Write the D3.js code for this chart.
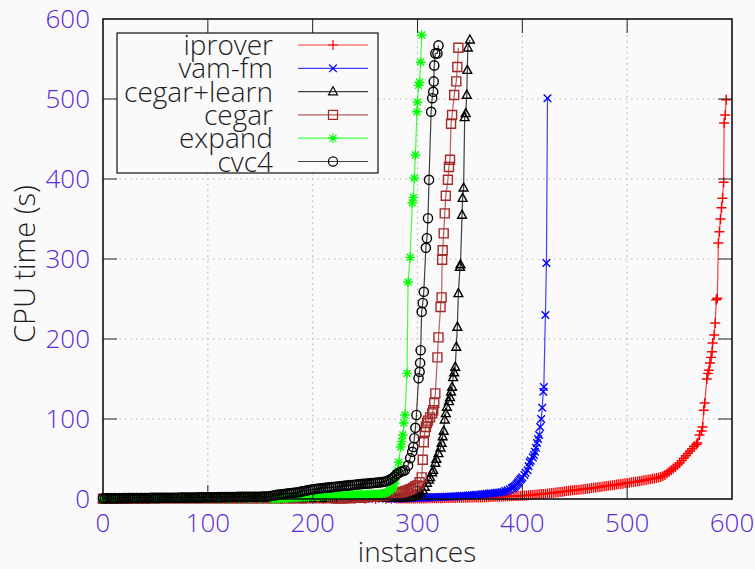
<!DOCTYPE html>
<html>
<head>
<meta charset="utf-8">
<script src="https://cdn.jsdelivr.net/npm/d3@7"></script>
<style>
  html, body { margin: 0; padding: 0; background: #fafafa; }
  svg { display: block; }
</style>
</head>
<body>
<div id="vis"></div>
<script>
// ---- data: [instance, CPU time (s)] ----
const iprover = [
  [0,0.2],[10,0.2],[20,0.2],[30,0.2],[40,0.2],[50,0.2],[60,0.2],[70,0.2],[80,0.2],[90,0.2],
  [100,0.2],[110,0.2],[120,0.2],[130,0.2],[140,0.2],[150,0.2],[160,0.2],[170,0.2],[180,0.3],[190,0.3],
  [200,0.3],[210,0.3],[220,0.3],[230,0.3],[240,0.3],[250,0.3],[260,0.4],[270,0.4],[275,0.45],
  [280,0.5],[282,0.5],[284,0.5],[286,0.55],[288,0.55],[290,0.6],[292,0.6],[294,0.6],[296,0.6],[298,0.65],
  [300,0.65],[302,0.7],[304,0.7],[306,0.7],[308,0.75],[310,0.8],[312,0.8],[314,0.85],[316,0.85],[318,0.9],
  [320,0.95],[322,1.0],[324,1.0],[326,1.1],[328,1.15],[330,1.2],[332,1.3],[334,1.35],[336,1.4],[338,1.45],
  [340,1.5],[342,1.5],[344,1.6],[346,1.65],[348,1.7],[350,1.75],[352,1.8],[354,1.9],[356,1.95],[358,2.0],
  [360,2.0],[362,2.1],[364,2.2],[366,2.3],[368,2.4],[370,2.5],[372,2.6],[374,2.7],[376,2.8],[378,2.9],
  [380,3.0],[382,3.1],[384,3.2],[386,3.3],[388,3.4],[390,3.5],[392,3.65],[394,3.8],[396,3.9],[398,4.05],
  [400,4.2],[402,4.3],[404,4.5],[406,4.7],[408,4.9],[410,5.1],[412,5.3],[414,5.6],[416,5.9],[418,6.1],
  [420,6.4],[422,6.7],[424,7.0],[426,7.2],[428,7.5],[430,7.8],[432,8.1],[434,8.4],[436,8.8],[438,9.2],
  [440,9.5],[442,9.9],[444,10.2],[446,10.5],[448,10.8],[450,11.1],[452,11.4],[454,11.7],[456,12.0],[458,12.3],
  [460,12.6],[462,12.9],[464,13.2],[466,13.6],[468,14.0],[470,14.3],[472,14.7],[474,15.1],[476,15.4],[478,15.8],
  [480,16.2],[482,16.5],[484,16.9],[486,17.3],[488,17.6],[490,18.0],[492,18.4],[494,18.8],[496,19.2],[498,19.6],
  [500,20.0],[502,20.4],[504,20.8],[506,21.2],[508,21.6],[510,22.0],[512,22.5],[514,22.9],[516,23.4],[518,23.9],
  [520,24.3],[522,24.8],[524,25.3],[526,25.7],[528,26.2],[530,26.8],[532,27.6],[534,28.8],[536,30],[538,32],
  [540,34],[542,36],[544,38],[546,40],[548,42.5],[550,45],[552,48],[554,51],[556,54],[558,57],
  [560,60],[562,63],[564,66],[566,68],[567,70],[569,80],[571,85],[572,90],[573,111],[574,120],
  [576,150],[577,157],[578,161],[579,170],[580,177],[581,184],[581.5,195],[583,205],[584,220],[585,249],
  [586,251],[587,320],[588,334],[589,350],[590,364],[591,376],[592,396],[592.5,470],[593.5,480],[594.5,499]
];
const vamFm = [
  [0,0.2],[10,0.2],[20,0.2],[30,0.2],[40,0.2],[50,0.2],[60,0.2],[70,0.2],[80,0.2],[90,0.2],
  [100,0.2],[110,0.2],[120,0.2],[130,0.2],[140,0.2],[150,0.2],[160,0.2],[170,0.2],[180,0.2],[190,0.2],
  [200,0.2],[210,0.2],[220,0.2],[230,0.3],[240,0.3],[250,0.3],[260,0.3],[270,0.3],[275,0.35],
  [280,0.4],[282,0.5],[284,0.6],[286,0.7],[288,0.8],[290,0.9],[292,1.0],[294,1.1],[296,1.2],[298,1.3],
  [300,1.35],[302,1.45],[304,1.5],[306,1.6],[308,1.7],[310,1.8],[312,1.9],[314,2.0],[316,2.1],[318,2.2],
  [320,2.3],[322,2.4],[324,2.5],[326,2.7],[328,2.8],[330,2.9],[332,3.1],[334,3.2],[336,3.3],[338,3.5],
  [340,3.6],[342,3.7],[344,3.9],[346,4.0],[348,4.2],[350,4.4],[352,4.6],[354,4.9],[356,5.2],[358,5.4],
  [360,5.7],[362,6.0],[364,6.2],[366,6.5],[368,6.8],[370,7.0],[372,7.2],[374,7.5],[376,7.8],[378,8.1],
  [380,8.4],[382,9.0],[384,9.8],[386,10.8],[388,12],[390,13.3],[391,14],[392,15],[393,16],[394,17.5],
  [395,19],[396,20.5],[397,22],[398,24],[399,25.5],[400,27],[402,30],[403,33],[405,36],[406,41],
  [407,46],[408,48],[410,52],[411,55],[412,59],[413,64],[414,70],[415,75],[416,80],[417,90],
  [418,100],[419,114],[420,134],[420.5,140],[422,230],[423,295],[424,501]
];
const cegarLearn = [
  [0,0.3],[4,0.3],[8,0.3],[12,0.3],[16,0.3],[20,0.3],[24,0.3],[28,0.3],[32,0.3],[36,0.4],
  [40,0.4],[44,0.4],[48,0.4],[52,0.4],[56,0.4],[60,0.4],[64,0.4],[68,0.4],[72,0.4],[76,0.5],
  [80,0.5],[84,0.5],[88,0.5],[92,0.5],[96,0.5],[100,0.5],[104,0.5],[108,0.5],[112,0.6],[116,0.6],
  [120,0.6],[124,0.6],[128,0.6],[132,0.6],[136,0.6],[140,0.6],[144,0.7],[148,0.7],[151,0.7],[154,0.7],
  [157,0.7],[160,0.7],[163,0.7],[166,0.7],[169,0.8],[172,0.8],[175,0.8],[178,0.8],[181,0.8],[184,0.8],
  [187,0.8],[190,0.8],[193,0.8],[196,0.8],[199,0.9],[202,0.9],[205,0.9],[208,0.9],[211,0.9],[214,0.9],
  [217,0.9],[220,0.9],[223,0.9],[226,0.9],[229,1.0],[232,1.0],[235,1.0],[238,1.0],[241,1.0],[244,1.0],
  [247,1.0],[250,1.0],[253,1.05],[256,1.05],[259,1.1],[262,1.1],[265,1.1],[268,1.1],[271,1.15],[274,1.15],
  [277,1.2],[280,1.2],[283,1.3],[286,1.5],[289,1.7],[292,2],[294,2.5],[296,3],[298,4.2],[300,5.5],
  [302,7],[303,8],[305,11],[307,15],[309,20],[311,24],[312,27],[314,33],[315,36],[317,45],
  [318,50],[320,57],[322,64],[323,70],[324,78],[325,85],[326,99],[327,107],[328,115],[330,122],
  [331,127],[332,134],[333,140],[334,152],[335,158],[336,165],[337,190],[338,215],[339,257],[340.5,290],
  [341,293],[342.5,355],[343,376],[344,389],[345,477],[346,482],[347,505],[347.5,536],[348,564],[350,574]
];
const cegar = [
  [0,0.4],[10,0.4],[20,0.4],[30,0.4],[40,0.4],[50,0.5],[60,0.5],[70,0.5],[80,0.5],[90,0.5],
  [100,0.6],[110,0.6],[120,0.6],[130,0.6],[140,0.6],[150,0.7],[160,0.7],[170,0.7],[180,0.7],[190,0.7],
  [200,0.8],[210,0.8],[220,0.8],[222,0.85],[224,0.9],[226,0.95],[228,1.0],[230,1.05],[232,1.1],[234,1.2],
  [236,1.3],[238,1.4],[240,1.5],[242,1.6],[244,1.8],[246,1.9],[248,2.1],[250,2.2],[252,2.4],[254,2.6],
  [256,2.8],[258,3.0],[260,3.3],[262,3.5],[264,3.8],[266,4.1],[268,4.4],[270,4.7],[272,5.0],[274,5.4],
  [276,5.8],[278,6.3],[280,6.8],[282,7.4],[284,8.1],[286,8.8],[288,9.6],[290,10.5],[292,11.5],[294,12.5],
  [296,14],[298,16],[300,17],[302,21],[304,27],[305,49],[306,71],[307,84],[308,90],[309,95],
  [310,98],[312,102],[314,107],[315,111],[316,120],[317,132],[319,177],[320,202],[322,240],[323,252],
  [323.5,299],[324,311],[325,332],[326,357],[327,379],[329,399],[330,415],[331,424],[332,469],[333,480],
  [335,505],[337,522],[338,540],[339,564]
];
const expand = [
  [0,0.3],[10,0.3],[20,0.3],[30,0.3],[40,0.3],[50,0.3],[60,0.3],[70,0.3],[80,0.3],[90,0.3],
  [100,0.3],[110,0.3],[120,0.3],[130,0.3],[140,0.3],[150,0.4],[160,0.4],[162,0.5],[164,0.55],[166,0.6],
  [168,0.7],[170,0.9],[172,1.0],[174,1.1],[176,1.3],[178,1.4],[180,1.6],[182,1.8],[184,2.0],[186,2.1],
  [188,2.3],[190,2.5],[192,2.7],[194,2.9],[196,3.0],[198,3.1],[200,3.3],[202,3.4],[204,3.5],[206,3.7],
  [208,3.8],[210,3.9],[212,4.1],[214,4.2],[216,4.3],[218,4.4],[220,4.5],[222,4.6],[224,4.7],[226,4.8],
  [228,4.85],[230,4.95],[232,5.0],[234,5.05],[236,5.15],[238,5.2],[240,5.25],[242,5.35],[244,5.4],[246,5.45],
  [248,5.55],[250,5.6],[252,5.65],[254,5.75],[256,5.8],[258,5.9],[260,6.0],[262,6.1],[264,6.3],[266,6.6],
  [267,6.8],[269,7.5],[271,8.5],[273,10],[274,11],[276,13],[277,15],[278,19],[279,24],[281,36],
  [282,46],[284,65],[285,72],[286,80],[287,95],[288,105],[290,157],[291,271],[293,302],[295,370],
  [296,377],[297,401],[298,430],[299.5,484],[300,496],[301,517],[302,521],[303,546],[304,580]
];
const cvc4 = [
  [0,0.8],[2,0.8],[4,0.8],[6,0.9],[8,0.9],[10,0.9],[12,1.0],[14,1.0],[16,1.0],[18,1.0],
  [20,1.1],[22,1.1],[24,1.1],[26,1.1],[28,1.2],[30,1.2],[32,1.2],[34,1.2],[36,1.2],[38,1.3],
  [40,1.3],[42,1.3],[44,1.3],[46,1.4],[48,1.4],[50,1.4],[52,1.4],[54,1.4],[56,1.5],[58,1.5],
  [60,1.5],[62,1.5],[64,1.6],[66,1.6],[68,1.6],[70,1.6],[72,1.6],[74,1.7],[76,1.7],[78,1.7],
  [80,1.8],[82,1.8],[84,1.8],[86,1.9],[88,1.9],[90,1.9],[92,2.0],[94,2.0],[96,2.0],[98,2.1],
  [100,2.1],[102,2.1],[104,2.2],[106,2.2],[108,2.2],[110,2.3],[112,2.3],[114,2.3],[116,2.4],[118,2.4],
  [120,2.4],[122,2.5],[124,2.5],[126,2.5],[128,2.6],[130,2.6],[132,2.6],[134,2.7],[136,2.7],[138,2.7],
  [140,2.8],[142,2.8],[144,2.8],[146,2.9],[148,2.9],[150,2.9],[152,3.0],[154,3.0],[156,3.1],[158,3.4],
  [160,3.8],[162,4.2],[164,4.7],[166,5.1],[168,5.5],[170,5.8],[172,6.2],[174,6.5],[176,6.8],[178,7.1],
  [180,7.4],[182,7.7],[184,8.1],[186,8.4],[188,8.9],[190,9.5],[192,10.0],[194,10.5],[196,11.1],[198,11.6],
  [200,12.0],[202,12.4],[204,12.8],[206,13.1],[208,13.4],[210,13.7],[212,14.0],[214,14.3],[216,14.5],[218,14.8],
  [220,15.0],[222,15.3],[224,15.6],[226,15.9],[228,16.2],[230,16.5],[232,16.7],[234,17.0],[236,17.3],[238,17.5],
  [240,17.8],[242,18.1],[244,18.3],[246,18.6],[248,18.9],[250,19.1],[252,19.3],[254,19.5],[256,19.8],[258,20.0],
  [260,20.3],[262,20.5],[264,20.8],[266,21.1],[268,21.5],[270,22.0],[272,23.0],[274,24.5],[276,26],[278,28],
  [280,31],[282,32.5],[284,34],[286,35],[288,36],[291,42],[293,51],[295,59],[296,65],[297,76],
  [298,89],[299,105],[301,151],[302,159],[302.5,170],[303,186],[304,234],[305,245],[306,259],[308,314],
  [309,326],[310,351],[311,399],[313,484],[314,501],[315,509],[315.5,522],[316,542],[317,557],[319,557],
  [320,567]
];

const seriesNames = ["iprover", "vam-fm", "cegar+learn", "cegar", "expand", "cvc4"];
const seriesData = [iprover, vamFm, cegarLearn, cegar, expand, cvc4];
const seriesColors = ["#ff0000", "#0000ff", "#000000", "#a52a2a", "#00ff00", "#000000"];
const seriesMarkers = ["plus", "cross", "triangle", "square", "star", "circle"];

const xTicks = [0, 100, 200, 300, 400, 500, 600];
const yTicks = [0, 100, 200, 300, 400, 500, 600];

// ---- layout ----
const W = 755, H = 569;
const plot = { left: 103, right: 732, top: 19, bottom: 499 };
const FONT = "'Open Sans', 'Noto Sans', sans-serif";
const tickColor = "#5a2ad6";
const textColor = "#1e1e1e";

const x = d3.scaleLinear().domain([0, 600]).range([plot.left, plot.right]);
const y = d3.scaleLinear().domain([0, 600]).range([plot.bottom, plot.top]);

const svg = d3.select("#vis").append("svg")
  .attr("width", W).attr("height", H)
  .style("background", "#fafafa");

// grid
const grid = svg.append("g")
  .attr("stroke", "#b8b8b8")
  .attr("stroke-width", 1.2)
  .attr("stroke-dasharray", "1.5,4");
grid.selectAll("line.gx").data(xTicks.slice(1, -1)).join("line")
  .attr("class", "gx")
  .attr("x1", d => x(d)).attr("x2", d => x(d))
  .attr("y1", plot.top).attr("y2", plot.bottom);
grid.selectAll("line.gy").data(yTicks.slice(1, -1)).join("line")
  .attr("class", "gy")
  .attr("x1", plot.left).attr("x2", plot.right)
  .attr("y1", d => y(d)).attr("y2", d => y(d));

// point symbols, gnuplot style
function markerPath(kind) {
  switch (kind) {
    case "plus": return "M-5,0H5M0,-5V5";
    case "cross": return "M-3.8,-3.8L3.8,3.8M-3.8,3.8L3.8,-3.8";
    case "triangle": return "M0,-4.8L4.4,3.2L-4.4,3.2Z";
    case "square": return "M-4.5,-4.5H4.5V4.5H-4.5Z";
    case "star": return "M-4.8,0H4.8M0,-4.8V4.8M-3.4,-3.4L3.4,3.4M-3.4,3.4L3.4,-3.4";
    case "circle": return d3.symbol(d3.symbolCircle, Math.PI * 4.6 * 4.6)();
  }
}

const line = d3.line().x(d => x(d[0])).y(d => y(d[1]));

// legend box (opaque, above grid)
const legend = { x0: 117, y0: 33, x1: 378, y1: 173, textX: 273, lineX0: 298, lineX1: 368, rowY0: 45, rowStep: 23.3 };
svg.append("rect")
  .attr("x", legend.x0).attr("y", legend.y0)
  .attr("width", legend.x1 - legend.x0).attr("height", legend.y1 - legend.y0)
  .attr("fill", "#fafafa").attr("stroke", "#111").attr("stroke-width", 1.2);

const rows = svg.append("g");
seriesNames.forEach((name, i) => {
  const ry = legend.rowY0 + i * legend.rowStep;
  rows.append("text")
    .attr("x", legend.textX).attr("y", ry)
    .attr("dy", "0.36em")
    .attr("text-anchor", "end")
    .attr("font-family", FONT).attr("font-weight", 300).attr("font-size", 28)
    .attr("fill", textColor)
    .text(name);
  rows.append("line")
    .attr("x1", legend.lineX0).attr("x2", legend.lineX1)
    .attr("y1", ry).attr("y2", ry)
    .attr("stroke", seriesColors[i]).attr("stroke-opacity", 0.75).attr("stroke-width", 1.2);
  rows.append("path")
    .attr("transform", `translate(${(legend.lineX0 + legend.lineX1) / 2},${ry})`)
    .attr("d", markerPath(seriesMarkers[i]))
    .attr("fill", "none").attr("stroke", seriesColors[i]).attr("stroke-width", 1.2);
});

// series
const dataLayer = svg.append("g");
seriesData.forEach((data, i) => {
  const g = dataLayer.append("g");
  g.append("path")
    .datum(data)
    .attr("d", line)
    .attr("fill", "none")
    .attr("stroke", seriesColors[i])
    .attr("stroke-opacity", 0.75)
    .attr("stroke-width", 1.2);
  g.selectAll("path.m").data(data).join("path")
    .attr("class", "m")
    .attr("transform", d => `translate(${x(d[0])},${y(d[1])})`)
    .attr("d", markerPath(seriesMarkers[i]))
    .attr("fill", "none")
    .attr("stroke", seriesColors[i])
    .attr("stroke-width", 1.4);
});

// ticks (inward, mirrored) and border
const tickLen = 14;
const ticks = svg.append("g").attr("stroke", "#222").attr("stroke-width", 1);
xTicks.slice(1, -1).forEach(t => {
  ticks.append("line").attr("x1", x(t)).attr("x2", x(t)).attr("y1", plot.bottom).attr("y2", plot.bottom - tickLen);
  ticks.append("line").attr("x1", x(t)).attr("x2", x(t)).attr("y1", plot.top).attr("y2", plot.top + tickLen);
});
yTicks.slice(1, -1).forEach(t => {
  ticks.append("line").attr("x1", plot.left).attr("x2", plot.left + tickLen).attr("y1", y(t)).attr("y2", y(t));
  ticks.append("line").attr("x1", plot.right).attr("x2", plot.right - tickLen).attr("y1", y(t)).attr("y2", y(t));
});
svg.append("rect")
  .attr("x", plot.left).attr("y", plot.top)
  .attr("width", plot.right - plot.left).attr("height", plot.bottom - plot.top)
  .attr("fill", "none").attr("stroke", "#111").attr("stroke-width", 1.6);

// tick labels
svg.append("g").selectAll("text").data(xTicks).join("text")
  .attr("x", d => x(d)).attr("y", 532)
  .attr("text-anchor", "middle")
  .attr("font-family", FONT).attr("font-weight", 300).attr("font-size", 26)
  .attr("fill", tickColor)
  .text(d => d);
svg.append("g").selectAll("text").data(yTicks).join("text")
  .attr("x", 90).attr("y", d => y(d))
  .attr("dy", "0.36em")
  .attr("text-anchor", "end")
  .attr("font-family", FONT).attr("font-weight", 300).attr("font-size", 26)
  .attr("fill", tickColor)
  .text(d => d);

// axis titles
svg.append("text")
  .attr("x", 417).attr("y", 562)
  .attr("text-anchor", "middle")
  .attr("font-family", FONT).attr("font-weight", 300).attr("font-size", 28)
  .attr("fill", textColor)
  .text("instances");
svg.append("text")
  .attr("transform", "translate(35,264) rotate(-90)")
  .attr("text-anchor", "middle")
  .attr("font-family", FONT).attr("font-weight", 300).attr("font-size", 29)
  .attr("fill", textColor)
  .text("CPU time (s)");
</script>
</body>
</html>
